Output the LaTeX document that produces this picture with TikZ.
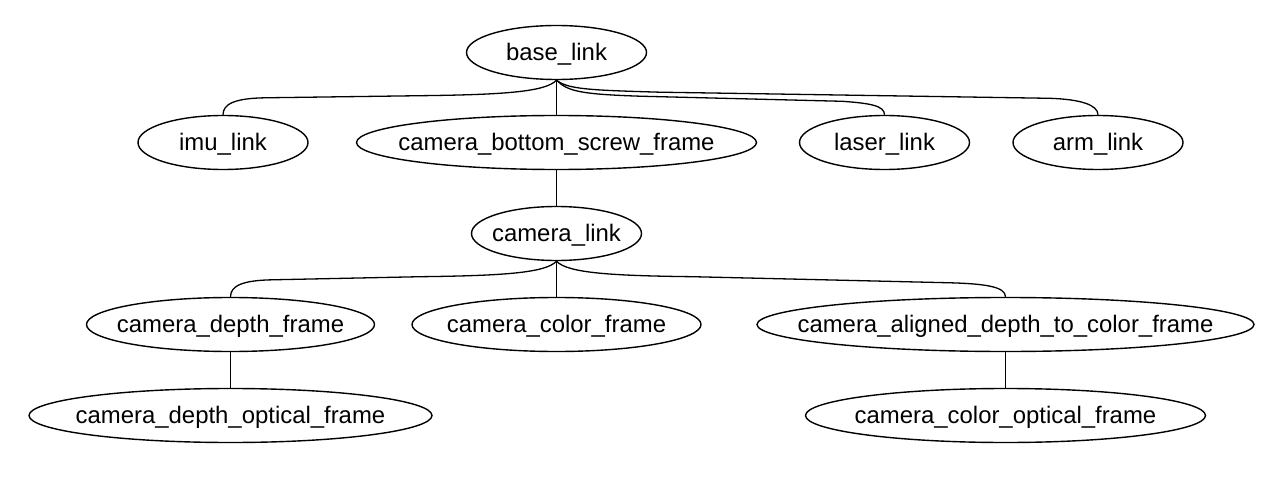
\documentclass[tikz,border=0pt]{standalone}
\usepackage{fontspec}
\setmainfont{Liberation Sans}
\usetikzlibrary{shapes.geometric,calc}
\begin{document}
\begin{tikzpicture}[x=1pt,y=-1pt,
  frame/.style={draw, ellipse, line width=1.4pt, inner sep=0pt, minimum height=54pt,
    text height=18pt, text depth=2.5pt, font=\fontsize{23.9}{28}\selectfont},
  link/.style={line width=1.3pt}]
\useasboundingbox (0,0) rectangle (1280,500);
% level 0
\node[frame, minimum width=180pt] (base) at (556.5,52.5) {\makebox[0pt]{base\_link}};
% level 1
\node[frame, minimum width=170pt] (imu) at (223,142.5) {\makebox[0pt]{imu\_link}};
\node[frame, minimum width=400pt] (screw) at (556.5,142.5) {\makebox[0pt]{camera\_bottom\_screw\_frame}};
\node[frame, minimum width=170pt] (laser) at (884.5,142.5) {\makebox[0pt]{laser\_link}};
\node[frame, minimum width=170pt] (arm) at (1098,142.5) {\makebox[0pt]{arm\_link}};
% level 2
\node[frame, minimum width=170pt] (cam) at (556.5,233.5) {\makebox[0pt]{camera\_link}};
% level 3
\node[frame, minimum width=288pt] (depth) at (230.5,324.5) {\makebox[0pt]{camera\_depth\_frame}};
\node[frame, minimum width=289pt] (color) at (556.5,324.5) {\makebox[0pt]{camera\_color\_frame}};
\node[frame, minimum width=497pt] (aligned) at (1005.5,324.5) {\makebox[0pt]{camera\_aligned\_depth\_to\_color\_frame}};
% level 4
\node[frame, minimum width=403pt] (depthopt) at (230.5,415.5) {\makebox[0pt]{camera\_depth\_optical\_frame}};
\node[frame, minimum width=400pt] (coloropt) at (1005.5,415.5) {\makebox[0pt]{camera\_color\_optical\_frame}};
% edges from base_link
\draw[link] (base.south) .. controls +(-11,12) and +(80,-1) .. ($(base.south)+(-136,15.5)$)
  -- ($(imu.north)+(42,-17)$) .. controls +(-30,0.5) and +(0,-11) .. (imu.north);
\draw[link] (base.south) -- (screw.north);
\draw[link] (base.south) .. controls +(11,11) and +(-60,-2) .. ($(base.south)+(83.5,16)$)
  -- ($(laser.north)+(-42,-13.5)$) .. controls +(28,2) and +(0,-9) .. (laser.north);
\draw[link] (base.south) .. controls +(11,9) and +(-70,-2) .. ($(base.south)+(103.5,12)$)
  -- ($(arm.north)+(-48,-16.5)$) .. controls +(30,1) and +(0,-10) .. (arm.north);
% chain
\draw[link] (screw.south) -- (cam.north);
% edges from camera_link
\draw[link] (cam.south) .. controls +(-11,12) and +(80,-1) .. ($(cam.south)+(-136,15.5)$)
  -- ($(depth.north)+(42,-17)$) .. controls +(-30,0.5) and +(0,-11) .. (depth.north);
\draw[link] (cam.south) -- (color.north);
\draw[link] (cam.south) .. controls +(11,12) and +(-80,-1) .. ($(cam.south)+(136,15.5)$)
  -- ($(aligned.north)+(-55,-14)$) .. controls +(35,1) and +(0,-10) .. (aligned.north);
% lower chains
\draw[link] (depth.south) -- (depthopt.north);
\draw[link] (aligned.south) -- (coloropt.north);
\end{tikzpicture}
\end{document}
